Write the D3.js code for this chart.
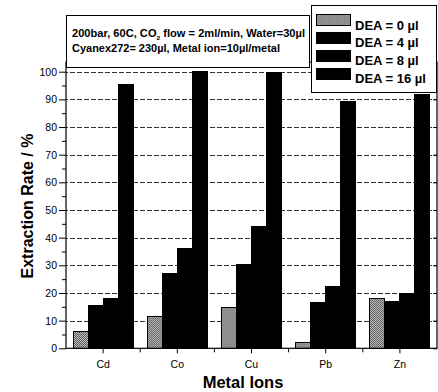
<!DOCTYPE html>
<html>
<head>
<meta charset="utf-8">
<script src="https://cdn.jsdelivr.net/npm/d3@7"></script>
<style>
  body { margin: 0; background: #fff; }
  svg { display: block; font-family: "Liberation Sans", Arial, sans-serif; }
</style>
</head>
<body>
<svg id="chart" width="438" height="392"></svg>
<script>
// metal ions on the x axis
const metals = ['Cd', 'Co', 'Cu', 'Pb', 'Zn'];
// legend labels, one per DEA volume
const seriesNames = ['DEA = 0 \u00b5l', 'DEA = 4 \u00b5l', 'DEA = 8 \u00b5l', 'DEA = 16 \u00b5l'];
// extraction rate (%)
const dea0 = [6.0, 11.4, 14.7, 2.2, 18.1];
const dea4 = [15.4, 27.1, 30.4, 16.5, 17.0];
const dea8 = [18.1, 36.1, 44.0, 22.5, 19.9];
const dea16 = [95.4, 100, 99.6, 89.2, 91.6];
const yTicks = [0, 10, 20, 30, 40, 50, 60, 70, 80, 90, 100];
const yMinorTicks = [5, 15, 25, 35, 45, 55, 65, 75, 85, 95];
const noteLine2 = 'Cyanex272= 230\u00b5l, Metal ion=10\u00b5l/metal';

const series = [dea0, dea4, dea8, dea16];
const svg = d3.select('#chart');

const plotLeft = 66, plotRight = 437, plotBottom = 348.3;

const x = d3.scaleBand()
  .domain(metals)
  .range([plotLeft, plotRight])
  .paddingInner(0.19)
  .paddingOuter(0.095);

const xSub = d3.scaleBand()
  .domain(d3.range(series.length))
  .range([0, x.bandwidth()]);

const y = d3.scaleLinear()
  .domain([0, 100])
  .range([plotBottom, 71.7]);

const plotTop = y(103.5);

const defs = svg.append('defs');

// stippled grey fill for the DEA = 0 series
const pat = defs.append('pattern')
  .attr('id', 'stipple')
  .attr('patternUnits', 'userSpaceOnUse')
  .attr('width', 2).attr('height', 2);
pat.append('rect').attr('width', 2).attr('height', 2).attr('fill', '#c8c8c8');
pat.append('rect').attr('width', 1).attr('height', 1).attr('fill', '#4a4a4a');
pat.append('rect').attr('x', 1).attr('y', 1).attr('width', 1).attr('height', 1).attr('fill', '#5e5e5e');

// dash pattern used to paint the grid lines
const dash = defs.append('pattern')
  .attr('id', 'dash')
  .attr('patternUnits', 'userSpaceOnUse')
  .attr('width', 7).attr('height', 1);
dash.append('rect').attr('width', 5).attr('height', 1).attr('fill', '#333');

const fills = ['url(#stipple)', '#000', '#000', '#000'];

// grid lines behind the bars, as 1px-high strips
svg.append('g')
  .selectAll('rect')
  .data(yTicks.slice(1))
  .enter()
  .append('rect')
  .attr('x', plotLeft)
  .attr('y', d => Math.round(y(d)))
  .attr('width', plotRight - plotLeft)
  .attr('height', 1)
  .attr('fill', 'url(#dash)');

// bars
const groups = svg.append('g')
  .selectAll('g')
  .data(metals)
  .enter()
  .append('g')
  .attr('transform', d => 'translate(' + x(d) + ',0)');

groups.selectAll('rect')
  .data((m, mi) => series.map((s, si) => ({si: si, v: s[mi]})))
  .enter()
  .append('rect')
  .attr('x', d => xSub(d.si))
  .attr('width', xSub.bandwidth())
  .attr('y', d => y(d.v))
  .attr('height', d => plotBottom - y(d.v))
  .attr('fill', d => fills[d.si])
  .attr('stroke', '#000')
  .attr('stroke-width', 1)
  .attr('shape-rendering', 'crispEdges');

// left axis
const yAxis = svg.append('g')
  .attr('transform', 'translate(' + plotLeft + ',0)')
  .call(d3.axisLeft(y).tickValues(yTicks).tickSize(7).tickSizeOuter(0).tickPadding(2));
yAxis.select('.domain').remove();
yAxis.selectAll('text')
  .style('font-size', '10.5px')
  .attr('fill', '#000');

svg.append('g')
  .attr('transform', 'translate(' + plotLeft + ',0)')
  .call(d3.axisLeft(y).tickValues(yMinorTicks).tickSize(4).tickFormat(''))
  .select('.domain').remove();

// right axis, ticks pointing inward
const yRight = svg.append('g')
  .attr('transform', 'translate(' + plotRight + ',0)')
  .call(d3.axisLeft(y).tickValues(yTicks).tickSize(4).tickFormat(''));
yRight.select('.domain').remove();

// bottom axis
const xAxis = svg.append('g')
  .attr('transform', 'translate(0,' + plotBottom + ')')
  .call(d3.axisBottom(x).tickSize(5).tickSizeOuter(0).tickPadding(7));
xAxis.select('.domain').remove();
xAxis.selectAll('text')
  .style('font-size', '10.5px')
  .attr('fill', '#000');

// minor ticks between the categories
svg.append('g')
  .selectAll('line')
  .data(metals.slice(1))
  .enter()
  .append('line')
  .attr('x1', d => x(d) - x.step() * x.paddingInner() / 2)
  .attr('x2', d => x(d) - x.step() * x.paddingInner() / 2)
  .attr('y1', plotBottom).attr('y2', plotBottom + 4)
  .attr('stroke', '#000');

// frame
svg.append('rect')
  .attr('x', plotLeft).attr('y', plotTop)
  .attr('width', plotRight - plotLeft).attr('height', plotBottom - plotTop)
  .attr('fill', 'none')
  .attr('stroke', '#000')
  .attr('stroke-width', 1.2);

// axis titles
svg.append('text')
  .attr('x', 243).attr('y', 388)
  .attr('text-anchor', 'middle')
  .style('font-size', '16.5px')
  .style('font-weight', 'bold')
  .text('Metal Ions');

svg.append('text')
  .attr('transform', 'translate(33,206) rotate(-90)')
  .attr('text-anchor', 'middle')
  .style('font-size', '16px')
  .style('font-weight', 'bold')
  .text('Extraction Rate / %');

// conditions box
svg.append('rect')
  .attr('x', 66.5).attr('y', 15.5)
  .attr('width', 243).attr('height', 52)
  .attr('fill', '#fff')
  .attr('stroke', '#000');

const note1 = svg.append('text')
  .attr('x', 72).attr('y', 36.5)
  .attr('textLength', 233)
  .attr('lengthAdjust', 'spacingAndGlyphs')
  .style('font-size', '10px')
  .style('font-weight', 'bold');
note1.append('tspan').text('200bar, 60C, CO');
note1.append('tspan').attr('dy', 3).style('font-size', '6px').text('2');
note1.append('tspan').attr('dy', -3).text(' flow = 2ml/min, Water=30\u00b5l');

svg.append('text')
  .attr('x', 72).attr('y', 51.5)
  .attr('textLength', 208)
  .attr('lengthAdjust', 'spacingAndGlyphs')
  .style('font-size', '10px')
  .style('font-weight', 'bold')
  .text(noteLine2);

// legend
svg.append('rect')
  .attr('x', 311.5).attr('y', 5.5)
  .attr('width', 125).attr('height', 87)
  .attr('fill', '#fff')
  .attr('stroke', '#000');

const legend = svg.append('g')
  .selectAll('g')
  .data(seriesNames)
  .enter()
  .append('g')
  .attr('transform', (d, i) => 'translate(316,' + (29.5 + i * 17.9) + ')');

legend.append('rect')
  .attr('x', 0).attr('y', -15)
  .attr('width', 34).attr('height', 11)
  .attr('fill', (d, i) => fills[i])
  .attr('stroke', '#000')
  .attr('shape-rendering', 'crispEdges');

legend.append('text')
  .attr('x', 39).attr('y', 0)
  .style('font-size', '13px')
  .style('font-weight', 'bold')
  .text(d => d);
</script>
</body>
</html>
